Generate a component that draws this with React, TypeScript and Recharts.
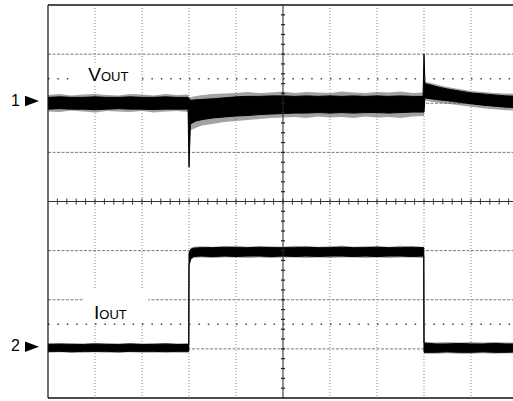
import {
  ComposedChart,
  Area,
  XAxis,
  YAxis,
  CartesianGrid,
  ReferenceLine,
  ReferenceArea,
} from 'recharts';

// Scope screen: 10 divisions across, 8 divisions high.
// All values below are in divisions.

// Channel 1: output voltage (AC coupled, noisy band)
const voutTime = [
  0, 0.25, 0.5, 0.75, 1, 1.25, 1.5, 1.75, 2, 2.25, 2.5, 2.75, 2.98,
  3.0,
  3.03, 3.15, 3.3, 3.5, 3.75, 4, 4.25, 4.5, 4.75, 5, 5.25, 5.5, 5.75, 6, 6.25, 6.5, 6.75, 7, 7.25, 7.5, 7.75, 7.98,
  8.0,
  8.02, 8.15, 8.3, 8.5, 8.75, 9, 9.25, 9.5, 9.75, 10,
];
const voutCoreHigh = [
  6.12, 6.13, 6.12, 6.12, 6.13, 6.12, 6.12, 6.13, 6.12, 6.12, 6.13, 6.12, 6.12,
  6.10,
  6.06, 6.07, 6.08, 6.09, 6.11, 6.13, 6.14, 6.14, 6.15, 6.15, 6.14, 6.15, 6.14, 6.15, 6.14, 6.15, 6.14, 6.15, 6.14, 6.15, 6.14, 6.14,
  7.0,
  6.40, 6.37, 6.33, 6.29, 6.25, 6.21, 6.19, 6.17, 6.15, 6.14,
];
const voutCoreLow = [
  5.88, 5.89, 5.88, 5.88, 5.87, 5.88, 5.89, 5.88, 5.88, 5.87, 5.88, 5.88, 5.88,
  4.70,
  5.58, 5.64, 5.67, 5.70, 5.72, 5.74, 5.75, 5.77, 5.78, 5.79, 5.80, 5.80, 5.81, 5.80, 5.81, 5.80, 5.81, 5.81, 5.80, 5.81, 5.82, 5.82,
  5.82,
  6.11, 6.09, 6.07, 6.05, 6.02, 5.99, 5.96, 5.94, 5.92, 5.91,
];
const voutSpikeHigh = [
  6.17, 6.19, 6.16, 6.18, 6.19, 6.17, 6.16, 6.19, 6.18, 6.16, 6.19, 6.17, 6.18,
  6.12,
  6.12, 6.15, 6.17, 6.19, 6.20, 6.21, 6.23, 6.21, 6.22, 6.24, 6.21, 6.23, 6.22, 6.21, 6.24, 6.22, 6.21, 6.23, 6.22, 6.24, 6.21, 6.22,
  7.0,
  6.44, 6.41, 6.37, 6.33, 6.29, 6.25, 6.23, 6.21, 6.20, 6.19,
];
const voutSpikeLow = [
  5.83, 5.82, 5.85, 5.83, 5.81, 5.84, 5.83, 5.82, 5.84, 5.81, 5.83, 5.84, 5.82,
  4.70,
  5.45, 5.50, 5.55, 5.58, 5.62, 5.64, 5.66, 5.68, 5.70, 5.71, 5.72, 5.70, 5.73, 5.71, 5.72, 5.70, 5.73, 5.71, 5.72, 5.70, 5.73, 5.74,
  5.74,
  6.06, 6.03, 6.01, 5.99, 5.96, 5.93, 5.90, 5.88, 5.86, 5.85,
];

// Channel 2: output current (load step)
const ioutTime = [
  0, 0.25, 0.5, 0.75, 1, 1.25, 1.5, 1.75, 2, 2.25, 2.5, 2.75, 2.995,
  3.0, 3.04, 3.1,
  3.25, 3.5, 3.75, 4, 4.25, 4.5, 4.75, 5, 5.25, 5.5, 5.75, 6, 6.25, 6.5, 6.75, 7, 7.25, 7.5, 7.75, 7.995,
  8.0,
  8.25, 8.5, 8.75, 9, 9.25, 9.5, 9.75, 10,
];
const ioutCoreHigh = [
  1.09, 1.10, 1.09, 1.09, 1.10, 1.09, 1.09, 1.10, 1.09, 1.09, 1.10, 1.09, 1.09,
  2.95, 3.03, 3.05,
  3.06, 3.06, 3.07, 3.06, 3.06, 3.07, 3.06, 3.06, 3.06, 3.07, 3.06, 3.06, 3.07, 3.06, 3.06, 3.07, 3.06, 3.06, 3.07, 3.06,
  1.12,
  1.10, 1.10, 1.11, 1.10, 1.10, 1.11, 1.10, 1.10,
];
const ioutCoreLow = [
  0.95, 0.95, 0.94, 0.95, 0.95, 0.95, 0.94, 0.95, 0.95, 0.95, 0.94, 0.95, 0.95,
  2.70, 2.84, 2.88,
  2.89, 2.88, 2.89, 2.88, 2.89, 2.89, 2.88, 2.89, 2.88, 2.89, 2.88, 2.89, 2.89, 2.88, 2.89, 2.88, 2.89, 2.89, 2.88, 2.89,
  0.93,
  0.93, 0.94, 0.93, 0.93, 0.94, 0.93, 0.93, 0.94,
];
const ioutSpikeHigh = [
  1.12, 1.11, 1.12, 1.11, 1.12, 1.12, 1.11, 1.12, 1.11, 1.12, 1.12, 1.11, 1.12,
  2.97, 3.06, 3.08,
  3.09, 3.08, 3.09, 3.10, 3.08, 3.09, 3.09, 3.08, 3.10, 3.09, 3.08, 3.09, 3.10, 3.08, 3.09, 3.09, 3.08, 3.10, 3.09, 3.08,
  1.14,
  1.13, 1.14, 1.13, 1.14, 1.13, 1.14, 1.13, 1.13,
];
const ioutSpikeLow = [
  0.92, 0.93, 0.92, 0.92, 0.93, 0.92, 0.92, 0.93, 0.92, 0.92, 0.93, 0.92, 0.92,
  2.66, 2.81, 2.85,
  2.86, 2.85, 2.86, 2.86, 2.85, 2.86, 2.85, 2.86, 2.86, 2.85, 2.86, 2.85, 2.86, 2.86, 2.85, 2.86, 2.85, 2.86, 2.86, 2.85,
  0.90,
  0.90, 0.91, 0.90, 0.90, 0.91, 0.90, 0.91, 0.90,
];

// grid
const gridTimes = [1, 2, 3, 4, 6, 7, 8, 9];
const gridLevels = [1, 2, 3, 5, 6, 7];
const channelMarkers = [6, 1]; // ground markers for ch1 / ch2
const channelNames: Record<number, string> = { 6: '1', 1: '2' };

const voutData = voutTime.map((t, i) => ({
  t,
  core: [voutCoreLow[i], voutCoreHigh[i]],
  spike: [voutSpikeLow[i], voutSpikeHigh[i]],
}));
const ioutData = ioutTime.map((t, i) => ({
  t,
  core: [ioutCoreLow[i], ioutCoreHigh[i]],
  spike: [ioutSpikeLow[i], ioutSpikeHigh[i]],
}));

const FONT = '"Liberation Sans", Arial, sans-serif';

// channel marker "1 ▶" on the left edge
const MarkerTick = ({ y, payload }: any) => (
  <g>
    <text x={11} y={y + 2.5} fontSize={16} fontFamily={FONT} fill="#000">
      {channelNames[payload.value]}
    </text>
    <polygon points={`25,${y - 7.5} 39,${y - 2.2} 25,${y + 3}`} fill="#000" />
  </g>
);

// center graticule line with minor ticks every 1/5 division
const CenterVertical = (p: any) => {
  const { x1, y1, y2 } = p;
  const top = Math.min(y1, y2);
  const step = Math.abs(y2 - y1) / 40;
  const ticks = Array.from({ length: 39 }, (_, i) => top + step * (i + 1));
  return (
    <g>
      <line x1={x1} y1={y1} x2={x1} y2={y2} stroke="#222" strokeWidth={1} />
      {ticks.map((y, i) => (
        <line key={i} x1={x1 - 2} x2={x1 + 2} y1={y} y2={y} stroke="#222" strokeWidth={1.2} />
      ))}
    </g>
  );
};

const CenterHorizontal = (p: any) => {
  const { x1, x2, y1 } = p;
  const left = Math.min(x1, x2);
  const step = Math.abs(x2 - x1) / 50;
  const ticks = Array.from({ length: 49 }, (_, i) => left + step * (i + 1));
  return (
    <g>
      <line x1={x1} y1={y1} x2={x2} y2={y1} stroke="#333" strokeWidth={1} />
      {ticks.map((x, i) => (
        <line key={i} x1={x} x2={x} y1={y1 - 3} y2={y1 + 3} stroke="#333" strokeWidth={1} />
      ))}
    </g>
  );
};

const traceLabel = (name: string, dx: number, dy: number) => (p: any) => (
  <g>
    <rect x={p.x} y={p.y} width={p.width} height={p.height} fill="#fff" />
    <text x={p.x + dx} y={p.y + dy} fontFamily={FONT} fill="#000">
      <tspan fontSize={19}>{name}</tspan>
      <tspan fontSize={13}>OUT</tspan>
    </text>
  </g>
);

export default function App() {
  return (
    <div
      style={{
        position: 'absolute',
        left: 0,
        top: 0,
        width: 513,
        height: 401,
        overflow: 'hidden',
        background: '#fff',
      }}
    >
      <ComposedChart
        width={530}
        height={401}
        margin={{ top: 5, right: 12, bottom: 3, left: 0 }}
      >
        <XAxis dataKey="t" type="number" domain={[0, 10]} hide allowDataOverflow />
        <YAxis
          type="number"
          domain={[0, 8]}
          width={48}
          ticks={channelMarkers}
          tick={<MarkerTick />}
          axisLine={false}
          tickLine={false}
          allowDataOverflow
        />
        <CartesianGrid
          vertical={false}
          horizontalValues={gridLevels}
          stroke="#7a7a7a"
          strokeDasharray="3 1.5"
        />
        <CartesianGrid
          horizontal={false}
          verticalValues={gridTimes}
          stroke="#8a8a8a"
          strokeDasharray="1 2"
        />

        {/* dotted trigger/offset rows */}
        <ReferenceLine segment={[{ x: 0, y: 6.5 }, { x: 0.6, y: 6.5 }]} stroke="#444" strokeWidth={1.5} strokeDasharray="1.5 7.9" />
        <ReferenceLine segment={[{ x: 2, y: 6.5 }, { x: 10, y: 6.5 }]} stroke="#444" strokeWidth={1.5} strokeDasharray="1.5 7.9" />
        <ReferenceLine y={1.5} stroke="#444" strokeWidth={1.5} strokeDasharray="1.5 7.9" />

        <ReferenceLine x={5} shape={<CenterVertical />} />
        <ReferenceLine y={4} shape={<CenterHorizontal />} />

        {/* frame */}
        <ReferenceLine x={0} stroke="#111" strokeWidth={1.2} />
        <ReferenceLine y={8} stroke="#111" strokeWidth={1.5} />
        <ReferenceLine y={0} stroke="#111" strokeWidth={1.5} />

        <Area
          data={voutData}
          dataKey="spike"
          type="linear"
          fill="#555"
          fillOpacity={0.55}
          stroke="none"
          isAnimationActive={false}
        />
        <Area
          data={voutData}
          dataKey="core"
          type="linear"
          fill="#000"
          fillOpacity={1}
          stroke="#000"
          strokeWidth={1}
          isAnimationActive={false}
        />
        <Area
          data={ioutData}
          dataKey="spike"
          type="linear"
          fill="#555"
          fillOpacity={0.55}
          stroke="none"
          isAnimationActive={false}
        />
        <Area
          data={ioutData}
          dataKey="core"
          type="linear"
          fill="#000"
          fillOpacity={1}
          stroke="#000"
          strokeWidth={1}
          isAnimationActive={false}
        />

        <ReferenceArea
          x1={0.6}
          x2={1.96}
          y1={6.37}
          y2={6.82}
          shape={traceLabel('V', 12, 18)}
        />
        <ReferenceArea
          x1={0.745}
          x2={2.13}
          y1={1.55}
          y2={2.2}
          shape={traceLabel('I', 11, 29)}
        />
      </ComposedChart>
    </div>
  );
}
